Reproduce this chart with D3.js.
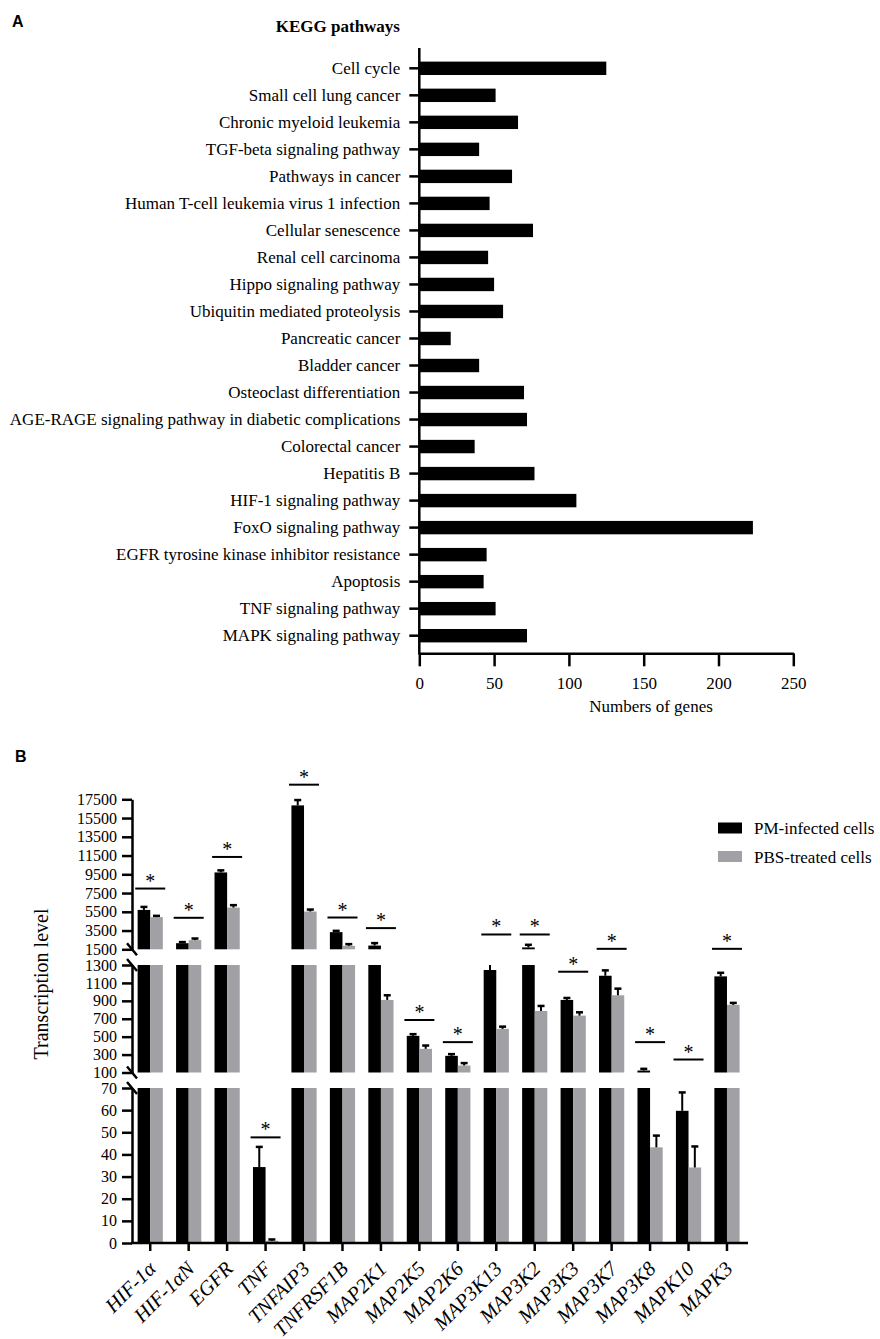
<!DOCTYPE html>
<html>
<head>
<meta charset="utf-8">
<script src="https://cdn.jsdelivr.net/npm/d3@7"></script>
<style>
body { margin: 0; background: #fff; }
svg text { font-family: 'Liberation Serif', 'Times New Roman', Times, serif; fill: #000; }
.axis path, .axis line { stroke: #000; stroke-width: 2.5; }
.lbl { font-family: 'Liberation Sans', Arial, sans-serif !important; font-weight: bold; font-size: 16px; }
</style>
</head>
<body>
<svg id="fig" width="880" height="1339"></svg>
<script>
// ---- panel A: KEGG pathways ----
const keggPathways = [
    "Cell cycle",
    "Small cell lung cancer",
    "Chronic myeloid leukemia",
    "TGF-beta signaling pathway",
    "Pathways in cancer",
    "Human T-cell leukemia virus 1 infection",
    "Cellular senescence",
    "Renal cell carcinoma",
    "Hippo signaling pathway",
    "Ubiquitin mediated proteolysis",
    "Pancreatic cancer",
    "Bladder cancer",
    "Osteoclast differentiation",
    "AGE-RAGE signaling pathway in diabetic complications",
    "Colorectal cancer",
    "Hepatitis B",
    "HIF-1 signaling pathway",
    "FoxO signaling pathway",
    "EGFR tyrosine kinase inhibitor resistance",
    "Apoptosis",
    "TNF signaling pathway",
    "MAPK signaling pathway"
];
const keggGenes = [125, 51, 66, 40, 62, 47, 76, 46, 50, 56, 21, 40, 70, 72, 37, 77, 105, 223, 45, 43, 51, 72];
const keggTicks = [0, 50, 100, 150, 200, 250];

// ---- panel B: transcription levels ----
const genes = ["HIF-1α", "HIF-1αN", "EGFR", "TNF", "TNFAIP3", "TNFRSF1B", "MAP2K1", "MAP2K5",
               "MAP2K6", "MAP3K13", "MAP3K2", "MAP3K3", "MAP3K7", "MAP3K8", "MAPK10", "MAPK3"];
const pmMean  = [5700, 2150, 9700, 34.3, 16850, 3330, 1900, 509, 286, 1244, 1700, 910, 1180, 122, 59.7, 1173];
const pmErr   = [320, 120, 220, 9.1, 570, 140, 260, 19, 19, 60, 280, 22, 60, 19, 8.3, 40];
const pbsMean = [4930, 2480, 5950, 1, 5530, 1870, 910, 364, 178, 587, 787, 735, 962, 43.2, 34.1, 855];
const pbsErr  = [140, 170, 260, 0.6, 210, 180, 52, 37, 27, 25, 56, 37, 74, 5.3, 9.5, 22];
const sigLevel = [7980, 4860, 11350, 47.7, 19060, 4890, 3760, 686, 439, 3080, 3080, 1225, 1550, 439, 245, 1550];
const seriesNames = ["PM-infected cells", "PBS-treated cells"];
const seriesColors = ["#000000", "#a0a0a5"];
const topTicks = [1500, 3500, 5500, 7500, 9500, 11500, 13500, 15500, 17500];
const midTicks = [100, 300, 500, 700, 900, 1100, 1300];
const lowTicks = [0, 10, 20, 30, 40, 50, 60, 70];

const svg = d3.select('#fig');

// ================= A =================
const gA = svg.append('g');
gA.append('text').attr('class', 'lbl').attr('x', 12).attr('y', 27).text('A');
gA.append('text').attr('x', 400).attr('y', 32).attr('text-anchor', 'end')
    .style('font-size', '17px').style('font-weight', 'bold').text('KEGG pathways');

const xA = d3.scaleLinear().domain([0, 250]).range([419.3, 793.3]);
const yA = d3.scaleBand().domain(keggPathways).range([54.8, 649.2]);

gA.selectAll('rect.kegg').data(keggPathways).join('rect')
    .attr('class', 'kegg')
    .attr('x', xA(0))
    .attr('y', d => yA(d) + yA.bandwidth() / 2 - 6.7)
    .attr('width', (d, i) => xA(keggGenes[i]) - xA(0))
    .attr('height', 13.4)
    .attr('fill', '#000');

gA.append('g').attr('class', 'axis').attr('transform', 'translate(' + xA(0) + ',0)')
    .call(d3.axisLeft(yA).tickSize(10).tickPadding(9))
    .call(g => g.select('.domain').remove())
    .selectAll('text').style('font-size', '17px');

gA.append('line').attr('x1', xA(0)).attr('x2', xA(0)).attr('y1', 48).attr('y2', 654.5)
    .attr('stroke', '#000').attr('stroke-width', 2.5);

gA.append('g').attr('class', 'axis').attr('transform', 'translate(0,653.3)')
    .call(d3.axisBottom(xA).tickValues(keggTicks).tickSize(13).tickSizeOuter(0).tickPadding(11))
    .selectAll('text').style('font-size', '17px');

gA.append('text').attr('x', 651).attr('y', 712).attr('text-anchor', 'middle')
    .style('font-size', '17px').text('Numbers of genes');

// ================= B =================
const gB = svg.append('g');
gB.append('text').attr('class', 'lbl').attr('x', 15).attr('y', 762).text('B');

const axX = 132;
const segs = [
    {min: 1500, max: 17500, y0: 949.3, y1: 799.3, ticks: topTicks},
    {min: 100, max: 1300, y0: 1072.5, y1: 965, ticks: midTicks},
    {min: 0, max: 70, y0: 1243, y1: 1088, ticks: lowTicks}
];
segs.forEach(s => { s.y = d3.scaleLinear().domain([s.min, s.max]).range([s.y0, s.y1]); });
function segFor(v) {
    if (v >= 1500) return segs[0];
    if (v >= 100) return segs[1];
    return segs[2];
}

const xB = d3.scaleBand().domain(genes).range([131, 746.2]);
const cx = g => xB(g) + xB.bandwidth() / 2;
const bw = 12.6;
const means = [pmMean, pbsMean];
const errs = [pmErr, pbsErr];

segs.forEach(s => {
    [0, 1].forEach(k => {
        const bx = (g) => k === 0 ? cx(g) - bw : cx(g);
        const inSeg = genes.filter((g, i) => means[k][i] > s.min);
        gB.selectAll(null).data(inSeg).join('rect')
            .attr('x', g => bx(g))
            .attr('y', g => s.y(Math.min(means[k][genes.indexOf(g)], s.max)))
            .attr('width', bw)
            .attr('height', g => s.y(s.min) - s.y(Math.min(means[k][genes.indexOf(g)], s.max)))
            .attr('fill', seriesColors[k]);

        // error bars (upper only)
        genes.forEach((g, i) => {
            const lo = means[k][i], hi = means[k][i] + errs[k][i];
            if (!(hi > s.min && lo < s.max)) return;
            const ex = bx(g) + bw / 2;
            const ya = s.y(Math.max(lo, s.min)), yb = s.y(Math.min(hi, s.max));
            gB.append('line').attr('x1', ex).attr('x2', ex).attr('y1', ya).attr('y2', yb)
                .attr('stroke', '#000').attr('stroke-width', 2);
            if (hi <= s.max)
                gB.append('line').attr('x1', ex - 3.5).attr('x2', ex + 3.5).attr('y1', yb).attr('y2', yb)
                    .attr('stroke', '#000').attr('stroke-width', 2.5);
        });
    });

    gB.append('g').attr('class', 'axis').attr('transform', 'translate(' + axX + ',0)')
        .call(d3.axisLeft(s.y).tickValues(s.ticks).tickFormat(d3.format('d'))
            .tickSize(10).tickSizeOuter(0).tickPadding(5))
        .selectAll('text').style('font-size', '16px');
});

// break marks
[segs[0].y0, segs[1].y1, segs[1].y0, segs[2].y1].forEach(y => {
    gB.append('line').attr('x1', axX - 5).attr('x2', axX + 5).attr('y1', y - 6).attr('y2', y + 6)
        .attr('stroke', '#000').attr('stroke-width', 2.5);
});

// significance
genes.forEach((g, i) => {
    const s = segFor(sigLevel[i]);
    const y = s.y(sigLevel[i]);
    gB.append('line').attr('x1', cx(g) - 15).attr('x2', cx(g) + 15).attr('y1', y).attr('y2', y)
        .attr('stroke', '#000').attr('stroke-width', 2);
    gB.append('text').attr('x', cx(g)).attr('y', y - 1).attr('text-anchor', 'middle')
        .style('font-size', '20px').text('*');
});

// x axis
gB.append('g').attr('class', 'axis').attr('transform', 'translate(0,1243)')
    .call(d3.axisBottom(xB).tickSize(8).tickSizeOuter(0).tickFormat(''))
    .call(g => g.select('.domain').remove());
gB.append('line').attr('x1', axX - 1).attr('x2', 748).attr('y1', 1243).attr('y2', 1243)
    .attr('stroke', '#000').attr('stroke-width', 2.5);

gB.selectAll('text.gene').data(genes).join('text')
    .attr('class', 'gene')
    .attr('text-anchor', 'end')
    .attr('transform', g => 'translate(' + (cx(g) + 7) + ',1270) rotate(-45)')
    .style('font-size', '20.5px').style('font-style', 'italic')
    .text(g => g);

gB.append('text').attr('transform', 'translate(48,984) rotate(-90)').attr('text-anchor', 'middle')
    .style('font-size', '20px').text('Transcription level');

// legend
seriesNames.forEach((n, k) => {
    gB.append('rect').attr('x', 718).attr('y', 822.5 + k * 28.5).attr('width', 24).attr('height', 11)
        .attr('fill', seriesColors[k]);
    gB.append('text').attr('x', 754).attr('y', 834 + k * 28.5).style('font-size', '17px').text(n);
});
</script>
</body>
</html>
